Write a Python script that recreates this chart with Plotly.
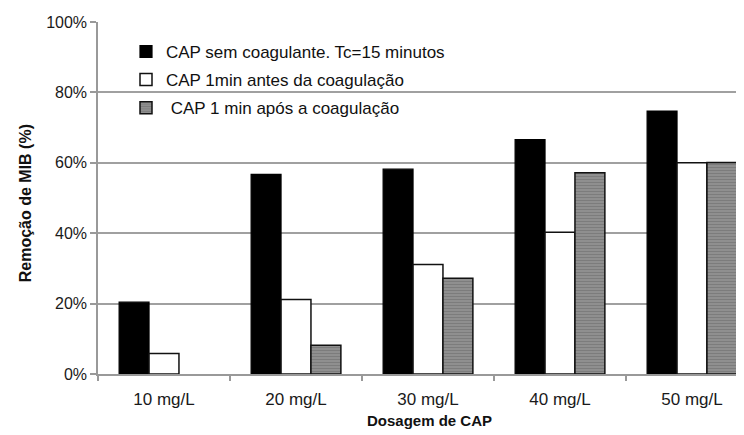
import plotly.graph_objects as go

categories = ["10 mg/L", "20 mg/L", "30 mg/L", "40 mg/L", "50 mg/L"]
series_names = ["CAP sem coagulante. Tc=15 minutos",
                "CAP 1min antes da coagulação",
                " CAP 1 min após a coagulação"]
sem_coag = [20.4, 56.7, 58.2, 66.6, 74.7]
antes = [5.8, 21.2, 31.1, 40.3, 60.0]
apos = [None, 8.2, 27.2, 57.2, 60.1]
y_ticks = [0, 20, 40, 60, 80, 100]

font_family = "Liberation Sans, Arial, sans-serif"

# page has an 8px body margin; figure is sized so the plot area lands where the reference's does
W, H = 736, 427
ML, MT, MB = 90, 14, 61
PW = W - ML
PH = H - MT - MB

fig = go.Figure()
fig.add_trace(go.Bar(x=categories, y=sem_coag, name=series_names[0], legendgroup="a",
                     marker=dict(color="#000000", line=dict(color="#000000", width=1.2))))
fig.add_trace(go.Bar(x=categories, y=antes, name=series_names[1], legendgroup="b",
                     marker=dict(color="#ffffff", line=dict(color="#111111", width=1.5))))
fig.add_trace(go.Bar(x=categories, y=apos, name=series_names[2], legendgroup="c",
                     marker=dict(color="#8f8f8f", line=dict(color="#111111", width=1.5),
                                 pattern=dict(shape="-", fgcolor="#6a6a6a", size=3, solidity=0.35))))

fig.update_layout(
    width=W, height=H,
    margin=dict(l=ML, r=0, t=MT, b=MB, autoexpand=False),
    paper_bgcolor="white", plot_bgcolor="white",
    barmode="group", bargap=0.32, bargroupgap=0,
    font=dict(family=font_family, size=16, color="#1a1a1a"),
    showlegend=True,
    legend=dict(x=(118 - ML) / PW, y=0.966, xanchor="left", yanchor="top",
                bgcolor="rgba(255,255,255,0)", borderwidth=0,
                font=dict(family=font_family, size=17, color="#111111"),
                traceorder="grouped", tracegroupgap=3),
)
# white band behind the legend, interrupting the 80% gridline like the reference
fig.add_shape(type="rect", xref="paper", yref="y",
              x0=(107 - ML) / PW, x1=(469 - ML) / PW, y0=73, y1=97,
              fillcolor="white", line=dict(width=0), layer="between")

fig.update_xaxes(
    type="category", range=[-0.5, 4.394], automargin=False,
    showline=True, linecolor="#999999", linewidth=1.5,
    ticks="outside", tickson="boundaries", ticklen=5, tickcolor="#999999", tickwidth=1.5,
    ticklabelstandoff=9,
    showgrid=False, zeroline=False,
    tickfont=dict(size=17, color="#1a1a1a"),
)
fig.update_yaxes(
    range=[0, 100], tickvals=y_ticks, ticktext=[f"{v}%" for v in y_ticks],
    automargin=False,
    showline=True, linecolor="#999999", linewidth=1.5,
    ticks="outside", ticklen=6, tickcolor="#999999", tickwidth=1.5,
    showgrid=True, gridcolor="#a0a0a0", gridwidth=1.5,
    zeroline=False,
    tickfont=dict(size=16, color="#1a1a1a"),
)
fig.add_annotation(text="<b>Remoção de MIB (%)</b>", textangle=-90,
                   xref="paper", yref="paper", x=(17 - ML) / PW, y=0.485,
                   xanchor="center", yanchor="middle",
                   showarrow=False, font=dict(size=16, color="#111111"))
fig.add_annotation(text="<b>Dosagem de CAP</b>",
                   xref="paper", yref="paper", x=(421 - ML) / PW, y=-(412 - (MT + PH)) / PH,
                   xanchor="center", yanchor="middle",
                   showarrow=False, font=dict(size=15, color="#111111"))

fig.write_html("out.html")
